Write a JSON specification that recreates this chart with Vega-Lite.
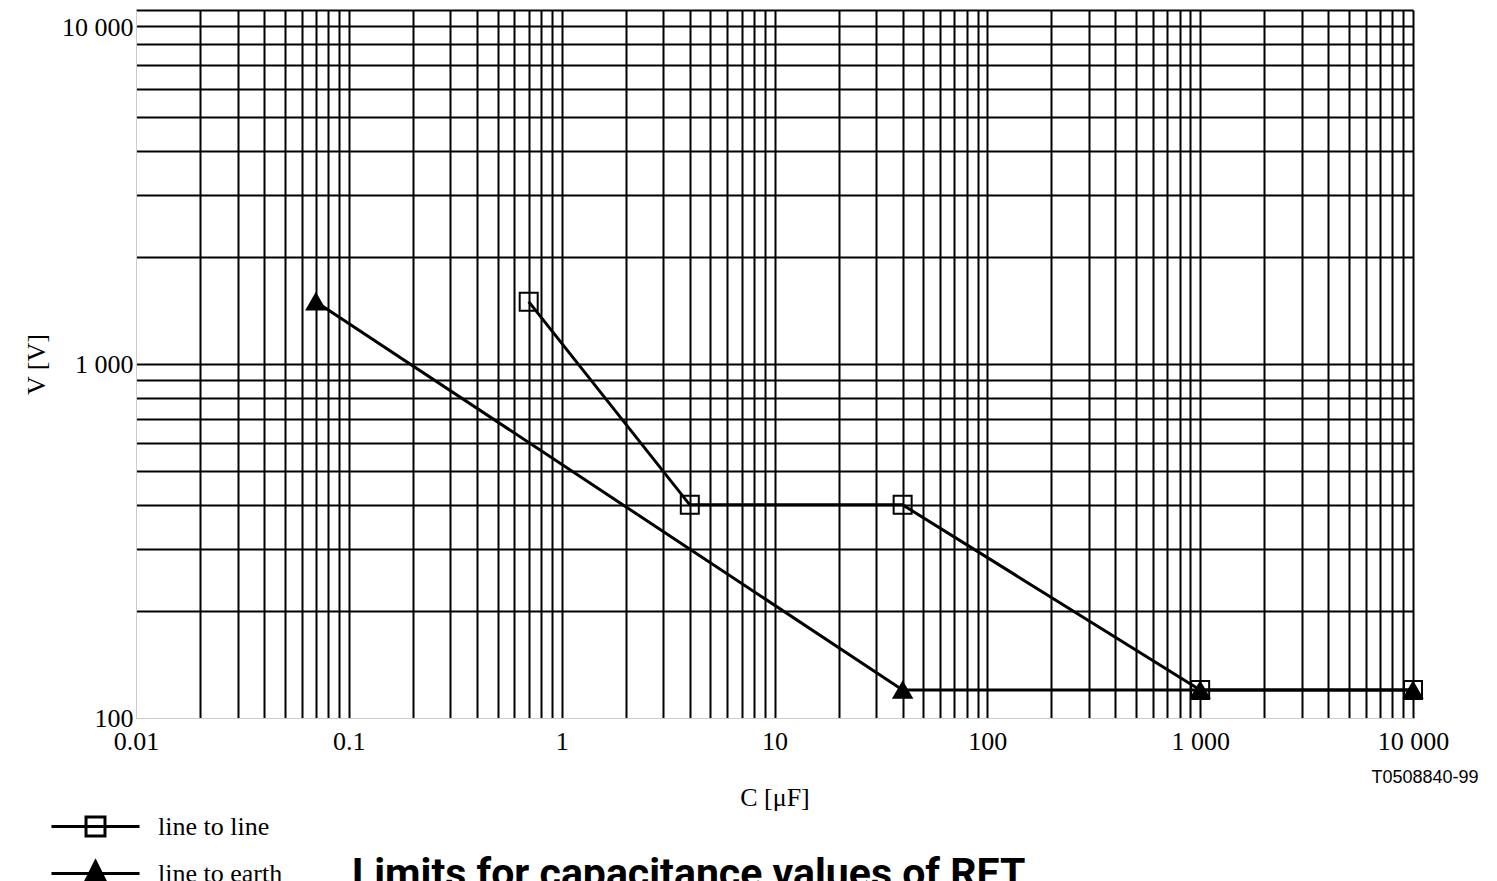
{
  "$schema": "https://vega.github.io/schema/vega-lite/v6.json",
  "width": 1277,
  "height": 708,
  "autosize": {"type": "none"},
  "padding": {"left": 136, "top": 10, "right": 84, "bottom": 200},
  "background": "white",
  "config": {"view": {"stroke": null}, "font": "Liberation Serif"},
  "title": {
    "text": "Limits for capacitance values of RET",
    "orient": "bottom",
    "anchor": "start",
    "frame": "group",
    "font": "Roboto",
    "fontSize": 41,
    "fontWeight": "bold",
    "color": "black",
    "dx": 216,
    "offset": -33
  },
  "datasets": {
    "limits": [
      {"series": "line to line", "C": 0.7, "V": 1500},
      {"series": "line to line", "C": 4, "V": 400},
      {"series": "line to line", "C": 40, "V": 400},
      {"series": "line to line", "C": 1000, "V": 120},
      {"series": "line to line", "C": 10000, "V": 120},
      {"series": "line to earth", "C": 0.07, "V": 1500},
      {"series": "line to earth", "C": 40, "V": 120},
      {"series": "line to earth", "C": 1000, "V": 120},
      {"series": "line to earth", "C": 10000, "V": 120}
    ],
    "code": [{"code": "T0508840-99", "C": 10000, "V": 100}]
  },
  "resolve": {"scale": {"shape": "independent"}, "legend": {"shape": "independent"}},
  "layer": [
    {
      "data": {"name": "limits"},
      "mark": {"type": "line", "color": "black", "strokeWidth": 3},
      "encoding": {
        "x": {
          "field": "C",
          "type": "quantitative",
          "scale": {"type": "log", "domain": [0.01, 10000], "nice": false},
          "axis": {
            "title": "C [μF]",
            "titleFont": "Liberation Serif",
            "titleFontSize": 26,
            "titleFontWeight": "normal",
            "titleColor": "black",
            "titlePadding": 30,
            "values": [0.01,0.02,0.03,0.04,0.05,0.06,0.07,0.08,0.09,0.1,0.2,0.3,0.4,0.5,0.6,0.7,0.8,0.9,1,2,3,4,5,6,7,8,9,10,20,30,40,50,60,70,80,90,100,200,300,400,500,600,700,800,900,1000,2000,3000,4000,5000,6000,7000,8000,9000,10000],
            "labelExpr": "datum.value == 0.01 ? '0.01' : datum.value == 0.1 ? '0.1' : datum.value == 1 ? '1' : datum.value == 10 ? '10' : datum.value == 100 ? '100' : datum.value == 1000 ? '1 000' : datum.value == 10000 ? '10 000' : ''",
            "labelFont": "Liberation Serif",
            "labelFontSize": 26,
            "labelColor": "black",
            "labelPadding": 10,
            "labelOverlap": false,
            "labelFlush": false,
            "labelBound": false,
            "ticks": false,
            "grid": true,
            "gridColor": {"condition": {"test": "datum.value == 0.01", "value": "transparent"}, "value": "black"},
            "gridWidth": 2,
            "gridOpacity": 1,
            "domainColor": "#cccccc",
            "domainWidth": 1
          }
        },
        "y": {
          "field": "V",
          "type": "quantitative",
          "scale": {"type": "log", "domain": [100, 10000], "nice": false},
          "axis": {
            "title": "V [V]",
            "titleFont": "Liberation Serif",
            "titleFontSize": 26,
            "titleFontWeight": "normal",
            "titleColor": "black",
            "titlePadding": 12,
            "values": [100,200,300,400,500,600,700,800,900,1000,2000,3000,4000,5000,6000,7000,8000,9000,10000],
            "labelExpr": "datum.value == 100 ? '100' : datum.value == 1000 ? '1 000' : datum.value == 10000 ? '10 000' : ''",
            "labelFont": "Liberation Serif",
            "labelFontSize": 26,
            "labelColor": "black",
            "labelPadding": 3,
            "labelOffset": {"condition": {"test": "datum.value == 10000", "value": 17}, "value": 0},
            "labelOverlap": false,
            "labelFlush": false,
            "labelBound": false,
            "ticks": false,
            "grid": true,
            "gridColor": {"condition": {"test": "datum.value == 100", "value": "transparent"}, "value": "black"},
            "gridWidth": 2,
            "gridOpacity": 1,
            "domainColor": "#cccccc",
            "domainWidth": 1
          }
        },
        "detail": {"field": "series"}
      }
    },
    {
      "data": {"name": "limits"},
      "mark": {"type": "point", "filled": false, "stroke": "black", "strokeWidth": 2, "size": 324, "opacity": 1},
      "encoding": {
        "x": {"field": "C", "type": "quantitative"},
        "y": {"field": "V", "type": "quantitative"},
        "shape": {
          "field": "series",
          "type": "nominal",
          "scale": {"domain": ["line to line", "line to earth"], "range": ["square", "triangle-up"]},
          "legend": null
        },
        "fill": {"condition": {"test": "datum.series === 'line to earth'", "value": "black"}, "value": "transparent"}
      }
    },
    {
      "data": {"name": "limits"},
      "mark": {"type": "point", "filled": false, "stroke": "black", "strokeWidth": 2.5, "size": 576, "opacity": 0},
      "encoding": {
        "x": {"field": "C", "type": "quantitative"},
        "y": {"field": "V", "type": "quantitative"},
        "shape": {
          "field": "series",
          "type": "nominal",
          "scale": {"domain": ["line to line", "line to earth"], "range": ["M-3.67,0H3.67M-0.79,-0.79H0.79V0.79H-0.79Z", "M-3.67,0H3.67M0,-1L0.83,0.67H-0.83Z"]},
          "legend": {
            "title": null,
            "orient": "none",
            "legendX": -54,
            "legendY": 803,
            "padding": 0,
            "symbolSize": 576,
            "symbolStrokeWidth": 3,
            "symbolStrokeColor": "black",
            "symbolOpacity": 1,
            "labelFont": "Liberation Serif",
            "labelFontSize": 26,
            "labelColor": "black",
            "labelOffset": 49,
            "rowPadding": 13,
            "encoding": {
              "symbols": {
                "fill": {"condition": {"test": "datum.value === 'line to line'", "value": "white"}, "value": "black"},
                "stroke": {"value": "black"},
                "opacity": {"value": 1}
              }
            }
          }
        }
      }
    },
    {
      "data": {"name": "code"},
      "mark": {"type": "text", "font": "Liberation Sans", "fontSize": 18, "color": "black", "align": "center", "baseline": "middle", "dx": 12, "dy": 60},
      "encoding": {
        "x": {"field": "C", "type": "quantitative"},
        "y": {"field": "V", "type": "quantitative"},
        "text": {"field": "code"}
      }
    }
  ]
}
